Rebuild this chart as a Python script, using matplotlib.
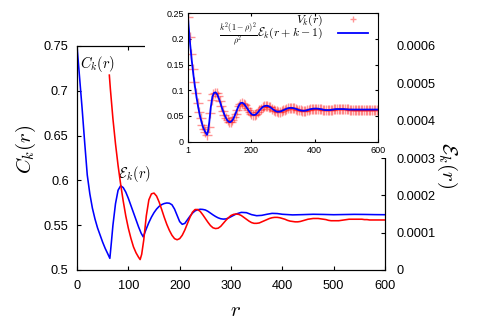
import numpy as np
import matplotlib
matplotlib.use('Agg')
import matplotlib.pyplot as plt
from matplotlib.patches import Rectangle

plt.rcParams['font.family'] = ['Liberation Sans', 'DejaVu Sans']
plt.rcParams['mathtext.fontset'] = 'cm'

# ---------------- data ----------------
# main plot, left axis: C_k(r)
r_C = [0, 5, 10, 15, 20, 25, 30, 35, 40, 45, 50, 55, 60,
       64, 67, 70,
       75, 80, 85, 90, 95, 100, 105, 110, 115, 120, 125,
       129,
       135, 140, 145, 150, 155, 160, 165, 170, 175, 180,
       185, 190, 195, 200, 205, 210, 215, 220, 225, 230,
       235, 240, 245, 250, 255, 260, 265, 270, 275, 280,
       285, 290, 295, 300,
       310, 320, 330, 340, 350, 360, 370, 380, 390, 400,
       420, 440, 460, 480, 500, 520, 540, 560, 580, 600]
C_k = [0.750, 0.715, 0.680, 0.642, 0.606, 0.585, 0.569, 0.557, 0.547, 0.539, 0.531, 0.524, 0.518,
       0.513, 0.531, 0.550,
       0.574, 0.589, 0.594, 0.592, 0.587, 0.580, 0.572, 0.564, 0.556, 0.548, 0.541,
       0.537,
       0.546, 0.553, 0.559, 0.564, 0.568, 0.571, 0.573, 0.5742, 0.5748, 0.5745,
       0.5728, 0.568, 0.561, 0.554, 0.551, 0.552, 0.556, 0.560, 0.5635, 0.566,
       0.5672, 0.5678, 0.5676, 0.567, 0.5655, 0.5635, 0.5615, 0.5597, 0.5582, 0.5572,
       0.5568, 0.557, 0.558, 0.5595,
       0.5625, 0.5643, 0.564, 0.5618, 0.5606, 0.561, 0.5622, 0.5632, 0.563, 0.5622,
       0.5615, 0.5618, 0.5622, 0.562, 0.5617, 0.5619, 0.5621, 0.562, 0.5618, 0.5617]

# main plot, right axis: E_k(r) in units of 1e-4
r_E = [63, 65, 70, 75, 80, 85, 90, 95, 100, 105, 110, 115, 120, 123, 126, 130,
       135, 140, 145, 150, 155, 160, 165, 170, 175, 180,
       185, 190, 195, 200, 205, 210, 215, 220, 225, 230,
       235, 240, 245, 250, 255, 260, 265, 270, 275, 280,
       285, 290, 295, 300, 305, 310, 315, 320, 325, 330,
       335, 340, 345, 350, 355, 360, 365, 370, 375, 380,
       385, 390, 395, 400, 405, 410, 415, 420, 425, 430,
       435, 440, 445, 450, 455, 460, 465, 470, 475, 480,
       485, 490, 495, 500, 505, 510, 515, 520, 525, 530,
       535, 540, 545, 550, 555, 560, 565, 570, 580, 590,
       600, 620, 640, 665]
E_k_e4 = [5.22, 4.85, 4.05, 3.38, 2.80, 2.30, 1.85, 1.45, 1.12, 0.85, 0.62, 0.46, 0.34, 0.28, 0.42, 0.80,
          1.45, 1.88, 2.04, 2.06, 1.98, 1.82, 1.62, 1.41, 1.22, 1.06,
          0.93, 0.84, 0.81, 0.84, 0.93, 1.07, 1.24, 1.41, 1.55, 1.62,
          1.62, 1.57, 1.48, 1.38, 1.28, 1.19, 1.13, 1.11, 1.12, 1.17,
          1.25, 1.33, 1.40, 1.46, 1.49, 1.50, 1.49, 1.46, 1.41, 1.36,
          1.31, 1.27, 1.25, 1.25, 1.26, 1.29, 1.32, 1.35, 1.38, 1.40,
          1.41, 1.41, 1.40, 1.38, 1.36, 1.33, 1.31, 1.30, 1.29, 1.29,
          1.30, 1.32, 1.34, 1.36, 1.37, 1.38, 1.38, 1.38, 1.37, 1.36,
          1.35, 1.33, 1.32, 1.32, 1.32, 1.32, 1.33, 1.34, 1.35, 1.36,
          1.36, 1.36, 1.36, 1.36, 1.36, 1.35, 1.35, 1.34, 1.34, 1.34,
          1.34, 1.34, 1.34, 1.34]

# inset: V_k(r) sampled every 5 steps starting at r = 1
r_V = list(range(1, 600, 5))
V_k = [0.243, 0.203, 0.170, 0.141, 0.116, 0.094, 0.075, 0.058, 0.045, 0.033,
       0.025, 0.018, 0.013, 0.028, 0.055, 0.080, 0.092, 0.095, 0.094, 0.088,
       0.079, 0.069, 0.060, 0.052, 0.046, 0.041, 0.038, 0.0385, 0.041, 0.047,
       0.054, 0.062, 0.069, 0.074, 0.075, 0.074, 0.071, 0.066, 0.061, 0.057,
       0.0535, 0.052, 0.0516, 0.0535, 0.057, 0.0605, 0.064, 0.067, 0.069, 0.070,
       0.069, 0.068, 0.0665, 0.064, 0.062, 0.060, 0.0586, 0.058, 0.0584, 0.0595,
       0.061, 0.0623, 0.0637, 0.0646, 0.0653, 0.0656, 0.0653, 0.0646, 0.0637, 0.0623,
       0.0614, 0.0605, 0.060, 0.060, 0.0602, 0.061, 0.0619, 0.0628, 0.0635, 0.064,
       0.0642, 0.0642, 0.064, 0.0635, 0.063, 0.0623, 0.0616, 0.0614, 0.0614, 0.0614,
       0.0616, 0.0621, 0.0625, 0.063, 0.0632, 0.0632, 0.0632, 0.0632, 0.0632, 0.063,
       0.0628, 0.0625, 0.0623, 0.0623, 0.0623, 0.0623, 0.0623, 0.0623, 0.0623, 0.0623,
       0.0623, 0.0623, 0.0623, 0.0623, 0.0623, 0.0623, 0.0623, 0.0623, 0.0623, 0.0623]

k_shift = 62          # r + k - 1 = r + 62
prefactor = 465.0     # k^2 (1-rho)^2 / rho^2

main_xticks = [0, 100, 200, 300, 400, 500, 600]
left_yticks = [0.5, 0.55, 0.6, 0.65, 0.7, 0.75]
left_ylabels = ['0.5', '0.55', '0.6', '0.65', '0.7', '0.75']
right_yticks = [0, 0.0001, 0.0002, 0.0003, 0.0004, 0.0005, 0.0006]
right_ylabels = ['0', '0.0001', '0.0002', '0.0003', '0.0004', '0.0005', '0.0006']
inset_xticks = [1, 200, 400, 600]
inset_yticks = [0, 0.05, 0.1, 0.15, 0.2, 0.25]
inset_ylabels = ['0', '0.05', '0.1', '0.15', '0.2', '0.25']

# ---------------- figure ----------------
W, H = 491, 324
fig = plt.figure(figsize=(W / 100, H / 100), dpi=100)

ax = fig.add_axes([77 / W, 1 - 270 / H, 308 / W, 224 / H])
ax.plot(r_C, C_k, color='#0000ff', lw=1.15)
ax.set_xlim(0, 600)
ax.set_ylim(0.5, 0.75)
ax.set_xticks(main_xticks)
ax.set_yticks(left_yticks)
ax.set_yticklabels(left_ylabels)
ax.tick_params(direction='in', top=True, length=3, labelsize=9.2, pad=6)
ax.tick_params(axis='x', pad=7)
ax.set_xlabel(r'$r$', fontsize=15, va='center')
ax.set_ylabel(r'$C_k(r)$', fontsize=15, va='center')
ax.xaxis.set_label_coords(0.516, -0.18)
ax.yaxis.set_label_coords(-0.165, 0.54)
ax.text(5, 0.730, r'$C_k(r)$', fontsize=10.5, ha='left', va='center')
ax.text(80, 0.607, r'$\mathcal{E}_k(r)$', fontsize=10.5, ha='left', va='center')

ax2 = ax.twinx()
ax2.plot(r_E, np.array(E_k_e4) * 1e-4, color='#ff0000', lw=1.15)
ax2.set_xlim(0, 600)
ax2.set_ylim(0, 0.0006)
ax2.set_yticks(right_yticks)
ax2.set_yticklabels(right_ylabels)
ax2.tick_params(direction='in', length=3, labelsize=9.2, pad=8)
ax2.set_ylabel(r'$\mathcal{E}_k(r)$', fontsize=15, rotation=270, va='center')
ax2.yaxis.set_label_coords(1.20, 0.47)

# white area behind the inset (as in the original multiplot)
fig.add_artist(Rectangle((145 / W, 1 - 158 / H), (391 - 145) / W, 158 / H,
                         transform=fig.transFigure, facecolor='white',
                         edgecolor='none', zorder=1.5))

axi = fig.add_axes([188 / W, 1 - 141.5 / H, 190 / W, 128.2 / H], zorder=2)
axi.plot(r_V, V_k, '+', color='#ff0000', alpha=0.42, ms=7, mew=1.0,
         label=r'$V_k(r)$')
axi.plot(np.array(r_E) - k_shift, prefactor * np.array(E_k_e4) * 1e-4,
         color='#0000ff', lw=1.3,
         label=r'$\frac{k^2(1-\rho)^2}{\rho^2}\mathcal{E}_k(r+k-1)$')
axi.set_xlim(1, 600)
axi.set_ylim(0, 0.25)
axi.set_xticks(inset_xticks)
axi.set_yticks(inset_yticks)
axi.set_yticklabels(inset_ylabels)
axi.tick_params(direction='in', top=True, right=True, length=2.5,
                labelsize=6.5, pad=3)
axi.legend(loc='upper right', bbox_to_anchor=(0.955, 1.01), frameon=False,
           markerfirst=False, fontsize=8.5, markerscale=0.7,
           handlelength=2.6, handletextpad=1.2, labelspacing=-0.7,
           borderaxespad=0.0, borderpad=0.1)

fig.savefig('out.png', dpi=100)
